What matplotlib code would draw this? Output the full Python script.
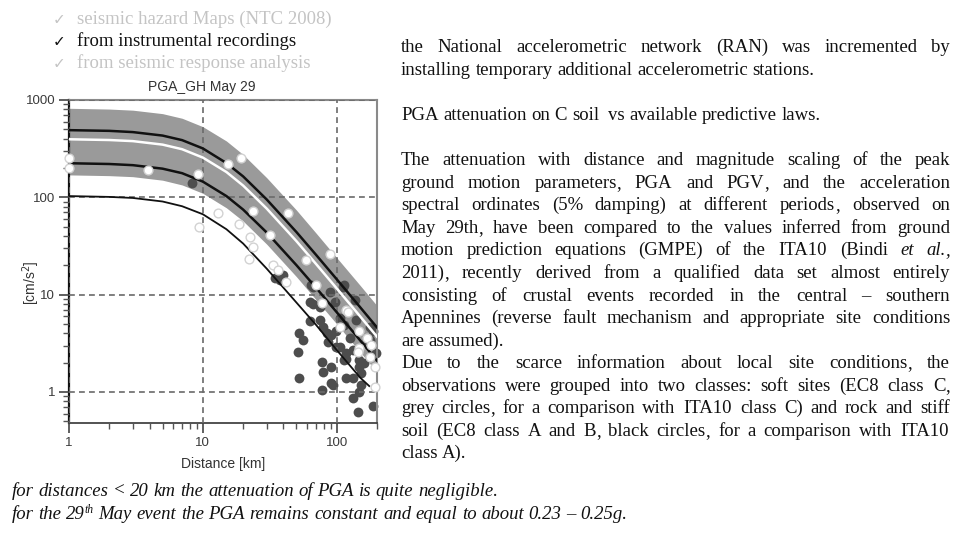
import re
import matplotlib
matplotlib.use('Agg')
import matplotlib.pyplot as plt
from matplotlib.ticker import FixedLocator, NullFormatter, FixedFormatter
from matplotlib.font_manager import FontProperties, findfont, get_font
try:
    from matplotlib.ft2font import LoadFlags
    NOHINT = LoadFlags.NO_HINTING
except Exception:  # older matplotlib
    from matplotlib.ft2font import LOAD_NO_HINTING as NOHINT

# ---------------- data ----------------
distance_km = [1, 2, 3, 5, 7, 10, 15, 20, 30, 50, 70, 100, 150, 200]
band_hi = [822, 807, 786, 724, 649, 532, 379, 275, 159, 74, 43, 24, 12.4, 7.7]
band_lo = [170, 167, 163, 150, 134, 110, 78, 57, 33, 15.3, 8.9, 5.0, 2.56, 1.6]
median_c = [395, 388, 378, 348, 312, 256, 182, 132, 76.6, 35.5, 20.7, 11.6, 5.96, 3.7]
upper_c = [490, 482, 468, 431, 387, 318, 225, 164, 95, 44, 25.7, 14.4, 7.4, 4.6]
lower_c = [224, 220, 214, 197, 177, 145, 103, 74.8, 43.5, 20.1, 11.8, 6.6, 3.38, 2.1]
distance_a_km = [1, 2, 3, 5, 7, 10, 15, 20, 30, 50, 70, 100, 150, 175]
median_a = [103, 101, 98.5, 90.6, 81, 67, 47, 33.5, 18.5, 8.3, 4.9, 2.7, 1.4, 1.15]

soft_x = [1.0, 1.0, 3.9, 9.2, 15.3, 19.2, 9.3, 13, 18.7, 22.4, 23.7, 22, 23.7, 31.6,
          43.3, 33.5, 36.4, 59.4, 88.7, 42, 70.4, 77, 118, 121, 105, 148, 167, 181,
          148, 176, 144, 193, 192]
soft_y = [252, 199, 191, 173, 220, 252, 50, 69, 53, 39.5, 31, 23.3, 72.5, 41,
          68.7, 20.2, 17.9, 22.7, 26.2, 13.6, 12.6, 8.2, 7.0, 6.7, 4.7, 4.2, 3.55, 3.04,
          2.8, 2.3, 2.6, 1.82, 1.13]

rock_x = [8.3, 34.4, 39.7, 37.6, 64.5, 66, 88.7, 111, 114, 62.8, 66.3, 75, 96.7, 136,
          62.8, 75, 79, 84, 91, 99, 105, 114, 125, 140, 176, 187, 167, 176, 52.7, 56,
          51.5, 86, 99, 105, 114, 118, 132, 118, 148, 198, 77, 91, 160, 52.7, 79, 91,
          94, 117, 132, 148, 152, 148, 152, 77, 132, 144, 187]
rock_y = [140, 14.7, 15.9, 14.0, 12.6, 12.1, 10.7, 12.1, 12.6, 8.5, 8.1, 7.5, 8.5, 8.8,
          5.3, 5.5, 4.7, 4.0, 3.85, 4.2, 5.7, 4.9, 3.55, 5.5, 4.7, 4.2, 3.4, 3.4, 4.0, 3.4,
          2.6, 3.3, 2.9, 2.9, 2.13, 2.5, 2.7, 2.2, 2.13, 2.5, 2.05, 1.82, 2.0, 1.38, 1.62, 1.23,
          1.18, 1.4, 1.38, 1.82, 1.56, 1.0, 1.18, 1.05, 0.86, 0.63, 0.71]

x_ticks = [1, 10, 100]
x_tick_labels = ['1', '10', '100']
y_ticks = [1, 10, 100, 1000]
y_tick_labels = ['1', '10', '100', '1000']

W, H = 960, 540
DPI = 100
fig = plt.figure(figsize=(9.6, 5.4), dpi=DPI)

# ---------------- chart ----------------
ax = fig.add_axes([69 / W, 1 - 423 / H, (377 - 69) / W, (423 - 100) / H])
ax.set_xscale('log')
ax.set_yscale('log')
ax.set_xlim(1, 200)
ax.set_ylim(0.48, 1000)

ax.fill_between(distance_km, band_lo, band_hi, color='#9a9a9a', lw=0, zorder=1)
ax.scatter(rock_x, rock_y, s=50, color='#4d4d4d', lw=0, zorder=2, clip_on=False)
ax.plot(distance_km, upper_c, color='#111111', lw=1.8, zorder=3)
ax.plot(distance_km, median_c, color='white', lw=1.8, zorder=3)
ax.plot(distance_km, lower_c, color='#111111', lw=1.8, zorder=3)
ax.plot(distance_a_km, median_a, color='#111111', lw=1.3, zorder=3)
ax.scatter(soft_x, soft_y, s=40, facecolor='white', edgecolor='#d2d2d2', lw=1.0,
           zorder=4, clip_on=False)

ax.xaxis.set_major_locator(FixedLocator(x_ticks))
ax.xaxis.set_major_formatter(FixedFormatter(x_tick_labels))
ax.yaxis.set_major_locator(FixedLocator(y_ticks))
ax.yaxis.set_major_formatter(FixedFormatter(y_tick_labels))
ax.xaxis.set_minor_locator(FixedLocator([m * d for d in (1, 10) for m in range(2, 10)] + [200]))
ax.yaxis.set_minor_locator(FixedLocator([m * d for d in (0.1, 1, 10, 100) for m in range(2, 10) if m * d >= 0.48]))
ax.xaxis.set_minor_formatter(NullFormatter())
ax.yaxis.set_minor_formatter(NullFormatter())
ax.tick_params(which='major', direction='out', length=7, width=1.2, color='#444444',
               labelsize=9.5, labelcolor='#3a3a3a', pad=3)
ax.tick_params(which='minor', direction='out', length=4, width=1.0, color='#555555')
for lab in ax.get_xticklabels() + ax.get_yticklabels():
    lab.set_family(['Liberation Sans', 'DejaVu Sans'])

ax.grid(which='major', ls=(0, (3.5, 2.5)), color='#6a6a6a', lw=1.2, zorder=0)
ax.set_axisbelow(False)
for gl in ax.get_xgridlines() + ax.get_ygridlines():
    gl.set_zorder(1.5)

ax.spines['left'].set_color('#111111')
ax.spines['left'].set_linewidth(1.6)
ax.spines['bottom'].set_color('#444444')
ax.spines['bottom'].set_linewidth(1.3)
for s in ('top', 'right'):
    ax.spines[s].set_color('#8a8a8a')
    ax.spines[s].set_linewidth(1.5)

SANS = ['Liberation Sans', 'DejaVu Sans']
fig.text(202 / W, 1 - 87 / H, 'PGA_GH May 29', ha='center', va='center',
         family=SANS, size=10, color='#333333')
fig.text(223 / W, 1 - 464 / H, 'Distance [km]', ha='center', va='center',
         family=SANS, size=10, color='#333333')
fig.text(31 / W, 1 - 283 / H, '[cm/s$^2$]', ha='center', va='center', rotation=90,
         family=SANS, size=10, color='#333333')

# ---------------- slide text (typeset word by word) ----------------
SERIF = ['Liberation Serif', 'DejaVu Serif']


def adv(s, p):
    """Advance width (pixels) of string s in the font described by props p."""
    fp = FontProperties(family=p['family'], style=p.get('style', 'normal'), size=p['size'])
    font = get_font(findfont(fp))
    font.set_size(p['size'], DPI)
    total = 0.0
    for ch in s:
        g = font.load_char(ord(ch), flags=NOHINT)
        total += g.linearHoriAdvance / 65536
    return total


def parse(line):
    tokens = []
    for word in line.split(' '):
        if word == '':
            tokens.append([])
            continue
        pieces = []
        for part in re.split(r'(_[^_]+_|\^[^^]+\^|,)', word):
            if not part:
                continue
            if part.startswith('_'):
                pieces.append((part[1:-1], {'style': 'italic'}))
            elif part.startswith('^'):
                pieces.append((part[1:-1], {'size_scale': 0.62, 'dy': -6}))
            else:
                pieces.append((part, {}))
        tokens.append(pieces)
    return tokens


def props(base, kw):
    p = dict(base)
    p.update(kw)
    dy = p.pop('dy', 0)
    sc = p.pop('size_scale', None)
    if sc:
        p['size'] = base['size'] * sc
    return p, dy


def layout_token(tok, base):
    placed = []
    cur = 0.0
    for s, kw in tok:
        p, dy = props(base, kw)
        if s == ',' and placed:
            p = dict(placed[-1][1])   # comma in the style of the preceding piece
            p['size'] = base['size']
        placed.append((s, p, dy, cur))
        cur += adv(s, p)
    return placed, cur


def draw_line(line, x0, yb, base, x1=None):
    yb = round(yb)
    tokens = [layout_token(t, base) for t in parse(line)]
    widths = [w for _, w in tokens]
    space = adv(' ', base)
    if x1 is not None and len(tokens) > 1:
        gap = (x1 - x0 - sum(widths)) / (len(tokens) - 1)
    else:
        gap = space
    x = x0
    for placed, w in tokens:
        for s, p, dy, xoff in placed:
            fig.text((x + xoff) / W, (H - (yb + dy)) / H, s,
                     ha='left', va='baseline', **p)
        x += w + gap


body = dict(family=SERIF, size=13.5, color='#111111')
paragraph = [
    (0, 'the National accelerometric network (RAN) was incremented by', True),
    (1, 'installing temporary additional accelerometric stations.', False),
    (3, 'PGA attenuation on C soil  vs available predictive laws.', False),
    (5, 'The attenuation with distance and magnitude scaling of the peak', True),
    (6, 'ground motion parameters, PGA and PGV, and the acceleration', True),
    (7, 'spectral ordinates (5% damping) at different periods, observed on', True),
    (8, 'May 29th, have been compared to the values inferred from ground', True),
    (9, 'motion prediction equations (GMPE) of the ITA10 (Bindi _et_ _al._,', True),
    (10, '2011), recently derived from a qualified data set almost entirely', True),
    (11, 'consisting of crustal events recorded in the central \u2013 southern', True),
    (12, 'Apennines (reverse fault mechanism and appropriate site conditions', True),
    (13, 'are assumed).', False),
    (14, 'Due to the scarce information about local site conditions, the', True),
    (15, 'observations were grouped into two classes: soft sites (EC8 class C,', True),
    (16, 'grey circles, for a comparison with ITA10 class C) and rock and stiff', True),
    (17, 'soil (EC8 class A and B, black circles, for a comparison with ITA10', True),
    (18, 'class A).', False),
]
for k, line, just in paragraph:
    yb = 47 + 22.55 * k + 5.5
    draw_line(line, 401, yb, body, x1=950 if just else None)

ital = dict(family=SERIF, size=13.5, color='#111111', style='italic')
draw_line('for distances < 20 km the attenuation of PGA is quite negligible.', 12, 496, ital)
draw_line('for the 29^th^ May event the PGA remains constant and equal to about 0.23 \u2013 0.25g.',
          12, 519, ital)

# checklist (top-left)
check_items = [('seismic hazard Maps (NTC 2008)', '#c4c4c4'),
               ('from instrumental recordings', '#111111'),
               ('from seismic response analysis', '#c4c4c4')]
for i, (label, col) in enumerate(check_items):
    yb = round(18 + 22.3 * i + 5.5)
    fig.text(53 / W, (H - yb) / H, '\u2713', ha='left', va='baseline',
             family=['DejaVu Sans'], size=11, color=col)
    fig.text(77 / W, (H - yb) / H, label, ha='left', va='baseline',
             family=SERIF, size=13.5, color=col)

fig.savefig('out.png', dpi=DPI)
